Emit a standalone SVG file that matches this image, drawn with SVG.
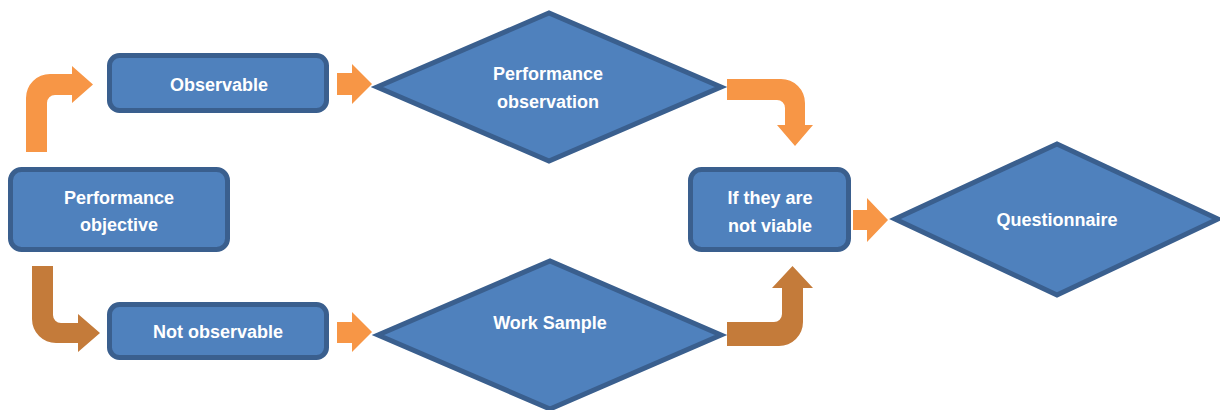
<svg xmlns="http://www.w3.org/2000/svg" width="1220" height="410" viewBox="0 0 1220 410">
<style>
.box{fill:#4F81BD;stroke:#3A5F8E;stroke-width:5}
.lbl{font-family:"Liberation Sans",Arial,sans-serif;font-size:18px;font-weight:bold;fill:#FFFFFF;text-anchor:middle}
.or{fill:#F79646}
.br{fill:#C47B3A}
</style>
<rect width="1220" height="410" fill="#FFFFFF"/>
<g id="connectors">
<path class="or" d="M26,152 L26,98 A24,24 0 0 1 50,74 L72,74 L72,66 L93,84.5 L72,103 L72,95 L55,95 A8,8 0 0 0 47,103 L47,152 Z"/>
<path class="br" d="M32,266 L53,266 L53,315 A8,8 0 0 0 61,323 L78,323 L78,314 L100,333 L78,352 L78,343 L56,343 A24,24 0 0 1 32,319 Z"/>
<path class="or" d="M337,73 L352,73 L352,64 L372,84 L352,104 L352,95 L337,95 Z"/>
<path class="or" d="M337,322 L352,322 L352,312 L372,332 L352,352 L352,343 L337,343 Z"/>
<path class="or" d="M727,79 L781,79 A24,24 0 0 1 805,103 L805,125 L813,125 L795,146 L777,125 L785,125 L785,108 A8,8 0 0 0 777,100 L727,100 Z"/>
<path class="br" d="M727,346 L779,346 A24,24 0 0 0 803,322 L803,288 L813,288 L792.5,266 L772,288 L782,288 L782,314 A8,8 0 0 1 774,322 L727,322 Z"/>
<path class="or" d="M853,210 L867,210 L867,198 L888,220 L867,242 L867,230 L853,230 Z"/>
</g>
<g id="performance-objective">
<rect class="box" x="10.5" y="169.5" width="217" height="80" rx="11"/>
<text class="lbl" x="119" y="204">Performance</text>
<text class="lbl" x="119" y="231">objective</text>
</g>
<g id="observable">
<rect class="box" x="109.5" y="55.5" width="217" height="55" rx="10"/>
<text class="lbl" x="219" y="91">Observable</text>
</g>
<g id="not-observable">
<rect class="box" x="109.5" y="304.5" width="217" height="53" rx="10"/>
<text class="lbl" x="218" y="338">Not observable</text>
</g>
<g id="performance-observation">
<polygon class="box" points="377,87 549,13 721,87 549,161"/>
<text class="lbl" x="548" y="80">Performance</text>
<text class="lbl" x="548" y="108">observation</text>
</g>
<g id="work-sample">
<polygon class="box" points="378,335 550,261 721,335 550,409"/>
<text class="lbl" x="550" y="329">Work Sample</text>
</g>
<g id="if-not-viable">
<rect class="box" x="690.5" y="169.5" width="158" height="80" rx="11"/>
<text class="lbl" x="770" y="204">If they are</text>
<text class="lbl" x="770" y="232">not viable</text>
</g>
<g id="questionnaire">
<polygon class="box" points="895,219 1057,144 1218,219 1057,295"/>
<text class="lbl" x="1057" y="226">Questionnaire</text>
</g>
</svg>
